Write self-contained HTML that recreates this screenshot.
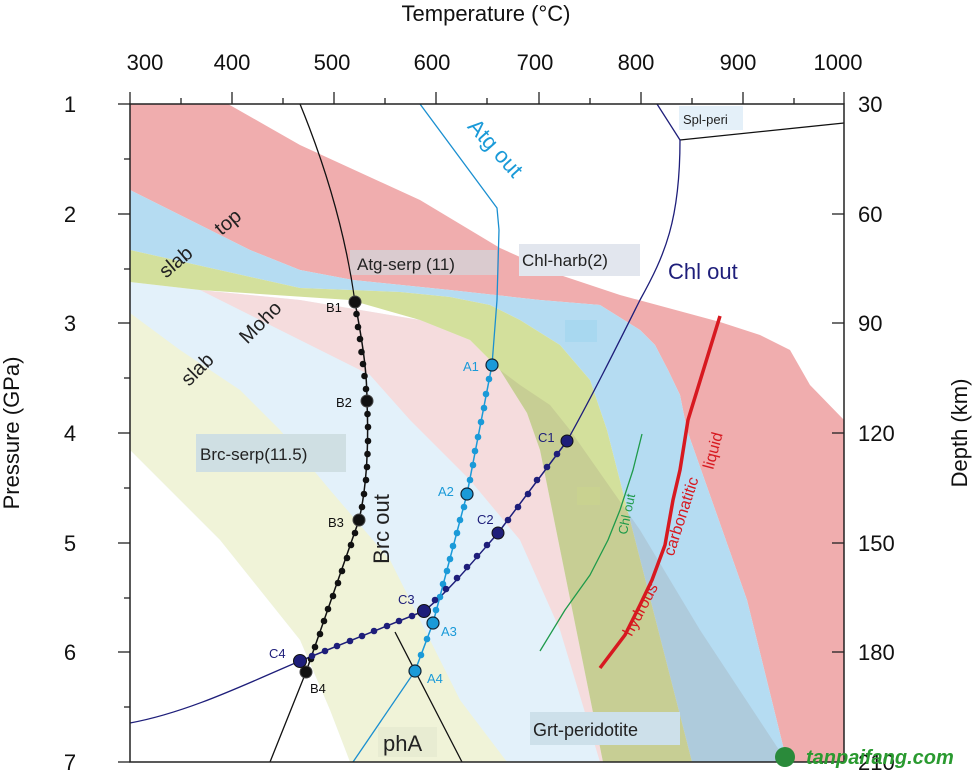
<!DOCTYPE html>
<html><head><meta charset="utf-8"><style>
html,body{margin:0;padding:0;background:#fff;}
svg{display:block;font-family:"Liberation Sans",Arial,sans-serif;}
</style></head><body>
<svg width="972" height="777" viewBox="0 0 972 777" xmlns="http://www.w3.org/2000/svg">
<rect width="972" height="777" fill="#fff"/>
<!-- Moho set -->
<polygon points="130,282 200,290 300,300 420,320 470,340 500,370 527,413 540,450 603,762 130,762" fill="#e3f1fa"/>
<polygon points="200,290 300,340 370,375 410,420 470,480 520,540 560,630 600,762 603,762 540,450 527,413 500,370 470,340 420,320 300,300" fill="#f5dcdd"/>
<polygon points="130,313 180,350 240,390 280,430 330,490 390,560 430,640 460,700 507,762 350,762 330,710 300,640 260,590 220,540 170,490 130,450" fill="#f0f3d8"/>
<polygon points="130,450 170,490 220,540 260,590 300,640 330,710 350,762 130,762" fill="#fff"/>
<!-- Slab top set -->
<polygon points="130,104 228,104 300,145 420,200 500,248 560,275 620,295 720,322 760,335 790,350 810,385 844,420 844,762 787,762 747,600 687,430 680,395 668,370 655,345 640,330 600,305 540,300 450,290 353,280 300,270 250,250 130,190" fill="#f0adae"/>
<polygon points="130,190 250,250 300,270 353,280 450,290 540,300 600,305 640,330 655,345 668,370 680,395 687,430 747,600 787,762 692,762 607,430 590,380 560,345 520,320 490,305 450,297 400,292 300,288 130,250" fill="#b5dcf2"/>
<polygon points="130,250 300,288 400,292 450,297 490,305 520,320 560,345 590,380 607,430 692,762 603,762 540,450 527,413 500,370 470,340 420,320 350,300 200,290 130,282" fill="#d3e09c"/>
<polygon points="500,370 520,385 550,405 570,430 640,530 700,630 787,762 603,762 540,450 527,413" fill="rgba(140,120,110,0.17)"/>
<rect x="565" y="320" width="32" height="22" fill="#a8d8f0"/>
<rect x="577" y="487" width="23" height="18" fill="#c9d290"/>
<!-- label boxes -->
<rect x="350" y="250" width="147" height="25" fill="#dacbcf"/>
<rect x="519" y="244" width="121" height="32" fill="#e2e6ee"/>
<rect x="679" y="106" width="64" height="24" fill="#e4f0f9"/>
<rect x="196" y="434" width="150" height="38" fill="#cfdfe3"/>
<rect x="378" y="727" width="59" height="30" fill="#e8ecd2"/>
<rect x="530" y="712" width="150" height="33" fill="#cde0ea"/>
<!-- lines -->
<g fill="none" stroke-width="1.3" stroke-linejoin="round">
<polyline points="680,140 844,123" stroke="#111"/>
<polyline points="657,104 680,140" stroke="#1e1e7a"/>
<path d="M300,104 C325,165 345,230 355,302" stroke="#111"/>
<polyline points="306,672 270,762" stroke="#111"/>
<polyline points="395,632 462,762" stroke="#111"/>
<polyline points="420,104 497,208 499,230 497,300 492,365" stroke="#1a8fd0"/>
<polyline points="415,671 353,762" stroke="#1a8fd0"/>
<path d="M680,140 C680,220 665,255 640,300 C615,350 590,400 567,441" stroke="#1e1e7a"/>
<path d="M300,661 C250,682 190,712 130,723" stroke="#1e1e7a"/>
<polyline points="642,434 633,470 620,510 608,540 590,575 565,610 540,651" stroke="#1e9a4a"/>
<polyline points="720,316 688,420 680,470 673,500 665,545 652,580 640,605 625,635 600,668" stroke="#d71920" stroke-width="3.5"/>
<path d="M355,302 C362,340 367,370 367,401 C369,450 366,490 359,520 L306,672" stroke="#111" stroke-width="1.5"/>
<polyline points="492,365 467,494 433,623 415,671" stroke="#1a9ad8" stroke-width="1.5"/>
<path d="M567,441 L498,533 C470,565 445,595 424,611 L300,661" stroke="#1e1e7a" stroke-width="1.5"/>
</g>
<!-- small dots -->
<g fill="#111">
<circle cx="356.5" cy="314" r="3.3"/><circle cx="358" cy="327" r="3.3"/><circle cx="360" cy="339" r="3.3"/><circle cx="361.5" cy="352" r="3.3"/><circle cx="363" cy="364" r="3.3"/><circle cx="364.5" cy="376" r="3.3"/><circle cx="366" cy="389" r="3.3"/>
<circle cx="367.5" cy="414" r="3.3"/><circle cx="368" cy="427" r="3.3"/><circle cx="368" cy="441" r="3.3"/><circle cx="367.5" cy="454" r="3.3"/><circle cx="367" cy="467" r="3.3"/><circle cx="366" cy="480" r="3.3"/><circle cx="364" cy="494" r="3.3"/><circle cx="362" cy="507" r="3.3"/>
<circle cx="355" cy="533" r="3.3"/><circle cx="351" cy="545" r="3.3"/><circle cx="347" cy="558" r="3.3"/><circle cx="342" cy="571" r="3.3"/><circle cx="338" cy="583" r="3.3"/><circle cx="333" cy="596" r="3.3"/><circle cx="328" cy="609" r="3.3"/><circle cx="324" cy="621" r="3.3"/><circle cx="320" cy="634" r="3.3"/><circle cx="315" cy="647" r="3.3"/><circle cx="311" cy="659" r="3.3"/>
</g>
<g fill="#1a9ad8">
<circle cx="489" cy="379" r="3.3"/><circle cx="486" cy="394" r="3.3"/><circle cx="484" cy="408" r="3.3"/><circle cx="481" cy="422" r="3.3"/><circle cx="478" cy="437" r="3.3"/><circle cx="475" cy="451" r="3.3"/><circle cx="473" cy="465" r="3.3"/><circle cx="470" cy="480" r="3.3"/>
<circle cx="464" cy="507" r="3.3"/><circle cx="460" cy="520" r="3.3"/><circle cx="457" cy="533" r="3.3"/><circle cx="453" cy="546" r="3.3"/><circle cx="450" cy="559" r="3.3"/><circle cx="447" cy="571" r="3.3"/><circle cx="443" cy="584" r="3.3"/><circle cx="440" cy="597" r="3.3"/><circle cx="436" cy="610" r="3.3"/>
<circle cx="427" cy="639" r="3.3"/><circle cx="421" cy="655" r="3.3"/>
</g>
<g fill="#1e1e7a">
<circle cx="557" cy="454" r="3.3"/><circle cx="547" cy="467" r="3.3"/><circle cx="537" cy="480" r="3.3"/><circle cx="528" cy="494" r="3.3"/><circle cx="518" cy="507" r="3.3"/><circle cx="508" cy="520" r="3.3"/>
<circle cx="487" cy="545" r="3.3"/><circle cx="477" cy="556" r="3.3"/><circle cx="467" cy="567" r="3.3"/><circle cx="457" cy="578" r="3.3"/><circle cx="446" cy="589" r="3.3"/><circle cx="435" cy="600" r="3.3"/>
<circle cx="412" cy="616" r="3.3"/><circle cx="399" cy="621" r="3.3"/><circle cx="387" cy="626" r="3.3"/><circle cx="374" cy="631" r="3.3"/><circle cx="362" cy="636" r="3.3"/><circle cx="350" cy="641" r="3.3"/><circle cx="337" cy="646" r="3.3"/><circle cx="325" cy="651" r="3.3"/><circle cx="312" cy="656" r="3.3"/>
</g>
<!-- main points -->
<g stroke="#444" stroke-width="1" fill="#111">
<circle cx="355" cy="302" r="6"/><circle cx="367" cy="401" r="6"/><circle cx="359" cy="520" r="6"/><circle cx="306" cy="672" r="6"/>
</g>
<g stroke="#123" stroke-width="1.2" fill="#1a9ad8">
<circle cx="492" cy="365" r="6"/><circle cx="467" cy="494" r="6"/><circle cx="433" cy="623" r="6"/><circle cx="415" cy="671" r="6"/>
</g>
<g stroke="#111" stroke-width="1" fill="#1e1e7a">
<circle cx="567" cy="441" r="6"/><circle cx="498" cy="533" r="6"/><circle cx="424" cy="611" r="6.5"/><circle cx="300" cy="661" r="6.5"/>
</g>
<g font-size="13" fill="#111">
<text x="326" y="312">B1</text><text x="336" y="407">B2</text><text x="328" y="527">B3</text><text x="310" y="693">B4</text>
</g>
<g font-size="13" fill="#1a9ad8">
<text x="463" y="371">A1</text><text x="438" y="496">A2</text><text x="441" y="636">A3</text><text x="427" y="683">A4</text>
</g>
<g font-size="13" fill="#1e1e7a">
<text x="538" y="442">C1</text><text x="477" y="524">C2</text><text x="398" y="604">C3</text><text x="269" y="658">C4</text>
</g>
<g font-size="17" fill="#222">
<text x="357" y="270">Atg-serp (11)</text>
<text x="522" y="266">Chl-harb(2)</text>
<text x="200" y="460">Brc-serp(11.5)</text>
<text x="533" y="736" font-size="18">Grt-peridotite</text>
<text x="383" y="751" font-size="22">phA</text>
<text x="683" y="124" font-size="13">Spl-peri</text>
</g>
<text x="668" y="279" font-size="22" fill="#1e1e7a">Chl out</text>
<text font-size="22" fill="#1a9ad8" transform="translate(490,153) rotate(48)" text-anchor="middle">Atg out</text>
<text font-size="22" fill="#222" transform="translate(389,529) rotate(-90)" text-anchor="middle">Brc out</text>
<text font-size="20" fill="#222" transform="translate(180,267) rotate(-40)" text-anchor="middle">slab</text>
<text font-size="20" fill="#222" transform="translate(232,227) rotate(-40)" text-anchor="middle">top</text>
<text font-size="20" fill="#222" transform="translate(202,374) rotate(-45)" text-anchor="middle">slab</text>
<text font-size="20" fill="#222" transform="translate(265,327) rotate(-45)" text-anchor="middle">Moho</text>
<text font-size="13" fill="#1e9a4a" transform="translate(631,515) rotate(-78)" text-anchor="middle">Chl out</text>
<text font-size="16" fill="#d71920" transform="translate(645,612) rotate(-62)" text-anchor="middle">hydrous</text>
<text font-size="16" fill="#d71920" transform="translate(686,518) rotate(-72)" text-anchor="middle">carbonatitic</text>
<text font-size="16" fill="#d71920" transform="translate(718,452) rotate(-75)" text-anchor="middle">liquid</text>
<!-- axes -->
<path d="M130,104 L844,104 L844,762 L130,762 Z" fill="none" stroke="#222" stroke-width="1.5"/>
<g stroke="#222" stroke-width="1.3">
<line x1="130" y1="104" x2="130" y2="92"/><line x1="181" y1="104" x2="181" y2="98"/><line x1="232" y1="104" x2="232" y2="92"/><line x1="283" y1="104" x2="283" y2="98"/><line x1="334" y1="104" x2="334" y2="92"/><line x1="385" y1="104" x2="385" y2="98"/><line x1="436" y1="104" x2="436" y2="92"/><line x1="487" y1="104" x2="487" y2="98"/><line x1="539" y1="104" x2="539" y2="92"/><line x1="590" y1="104" x2="590" y2="98"/><line x1="641" y1="104" x2="641" y2="92"/><line x1="692" y1="104" x2="692" y2="98"/><line x1="743" y1="104" x2="743" y2="92"/><line x1="794" y1="104" x2="794" y2="98"/><line x1="844" y1="104" x2="844" y2="92"/>
<line x1="130" y1="104" x2="118" y2="104"/><line x1="130" y1="159" x2="124" y2="159"/><line x1="130" y1="214" x2="118" y2="214"/><line x1="130" y1="269" x2="124" y2="269"/><line x1="130" y1="323" x2="118" y2="323"/><line x1="130" y1="378" x2="124" y2="378"/><line x1="130" y1="433" x2="118" y2="433"/><line x1="130" y1="488" x2="124" y2="488"/><line x1="130" y1="543" x2="118" y2="543"/><line x1="130" y1="598" x2="124" y2="598"/><line x1="130" y1="652" x2="118" y2="652"/><line x1="130" y1="707" x2="124" y2="707"/><line x1="130" y1="762" x2="118" y2="762"/>
<line x1="844" y1="214" x2="832" y2="214"/><line x1="844" y1="323" x2="832" y2="323"/><line x1="844" y1="433" x2="832" y2="433"/><line x1="844" y1="543" x2="832" y2="543"/><line x1="844" y1="652" x2="832" y2="652"/>
</g>
<g font-size="22" fill="#111" text-anchor="middle">
<text x="145" y="70">300</text><text x="232" y="70">400</text><text x="332" y="70">500</text><text x="432" y="70">600</text><text x="535" y="70">700</text><text x="636" y="70">800</text><text x="738" y="70">900</text><text x="838" y="70">1000</text>
<text x="70" y="112">1</text><text x="70" y="222">2</text><text x="70" y="331">3</text><text x="70" y="441">4</text><text x="70" y="551">5</text><text x="70" y="660">6</text><text x="70" y="770">7</text>
</g>
<g font-size="22" fill="#111">
<text x="858" y="112">30</text><text x="858" y="222">60</text><text x="858" y="331">90</text><text x="858" y="441">120</text><text x="858" y="551">150</text><text x="858" y="660">180</text><text x="858" y="770">210</text>
</g>
<text x="486" y="21" font-size="22" fill="#111" text-anchor="middle">Temperature (°C)</text>
<text font-size="22" fill="#111" transform="translate(19,433) rotate(-90)" text-anchor="middle">Pressure (GPa)</text>
<text font-size="22" fill="#111" transform="translate(967,433) rotate(-90)" text-anchor="middle">Depth (km)</text>
<circle cx="785" cy="757" r="10" fill="#2a8a3a"/>
<text x="806" y="764" font-size="20" font-weight="bold" font-style="italic" fill="#2a9a30">tanpaifang.com</text>
</svg>
</body></html>
